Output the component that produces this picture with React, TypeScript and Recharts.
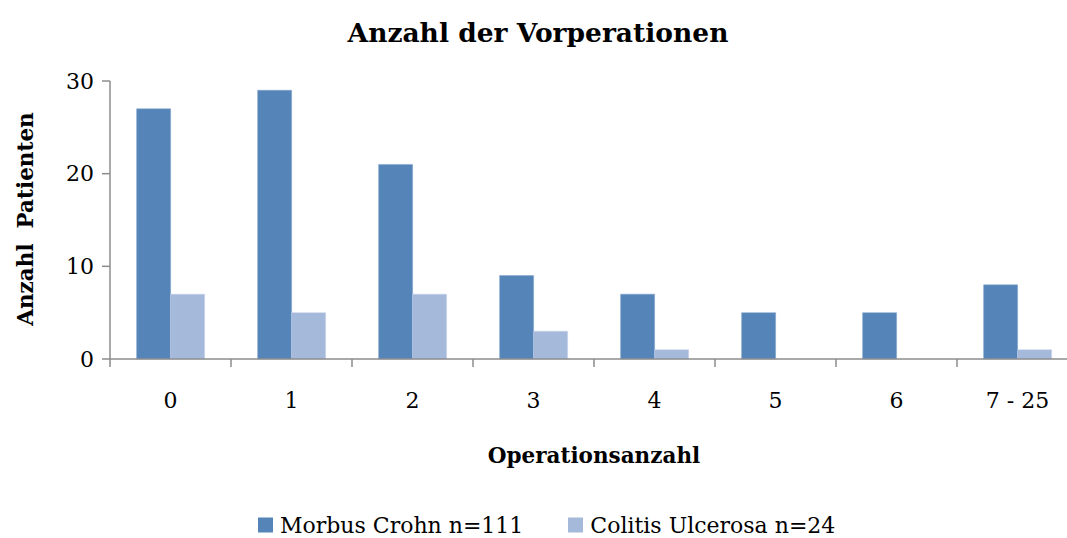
import React from 'react';
import { BarChart, Bar, XAxis, YAxis } from 'recharts';

const categories = ['0', '1', '2', '3', '4', '5', '6', '7 - 25'];
const morbusCrohn = [27, 29, 21, 9, 7, 5, 5, 8];
const colitisUlcerosa = [7, 5, 7, 3, 1, 0, 0, 1];
const yTicks = [0, 10, 20, 30];

const seriesNames = ['Morbus Crohn n=111', 'Colitis Ulcerosa n=24'];
const colors = ['#5585B8', '#A5B9DA'];

const data = categories.map((c, i) => ({ cat: c, mc: morbusCrohn[i], cu: colitisUlcerosa[i] }));

const FONT = '"DejaVu Serif", serif';
const AXIS = '#8C8C8C';
const TICK_SIZE = 6;
const TICK_MARGIN = 27;

const XTick = (props: any) => {
  const { x, y, payload, index, visibleTicksCount } = props;
  const half = payload && typeof payload.offset === 'number' && payload.offset > 0 ? payload.offset : 0;
  const top = y - TICK_SIZE - TICK_MARGIN;
  return (
    <g>
      {half > 0 && <line x1={x - half} x2={x - half} y1={top} y2={top + 8} stroke={AXIS} strokeWidth={1.5} />}
      {half > 0 && index === visibleTicksCount - 1 && (
        <line x1={x + half} x2={x + half} y1={top} y2={top + 8} stroke={AXIS} strokeWidth={1.5} />
      )}
      <text x={x} y={y} dy="0.71em" textAnchor="middle" fill="#000" fontSize={22} fontFamily={FONT}>
        {payload.value}
      </text>
    </g>
  );
};

export default function App() {
  return (
    <div style={{ position: 'absolute', left: 0, top: 0, width: 1067, height: 538, overflow: 'hidden', background: '#fff', fontFamily: FONT }}>
      <div style={{ position: 'absolute', left: 538, top: 32, transform: 'translate(-50%, -50%)', whiteSpace: 'pre', fontWeight: 'bold', fontSize: 26.5 }}>
        Anzahl der Vorperationen
      </div>
      <div style={{ position: 'absolute', left: 25, top: 219, transform: 'translate(-50%, -50%) rotate(-90deg)', whiteSpace: 'pre', fontWeight: 'bold', fontSize: 21.5 }}>
        {'Anzahl  Patienten'}
      </div>
      <div style={{ position: 'absolute', left: 594, top: 455, transform: 'translate(-50%, -50%)', whiteSpace: 'pre', fontWeight: 'bold', fontSize: 21.5 }}>
        Operationsanzahl
      </div>
      <div style={{ position: 'absolute', left: 258, top: 525, transform: 'translateY(-50%)', display: 'flex', alignItems: 'center', fontSize: 22, whiteSpace: 'pre' }}>
        <span style={{ display: 'inline-block', width: 15, height: 15, background: colors[0], marginRight: 7 }} />
        <span>{seriesNames[0]}</span>
        <span style={{ display: 'inline-block', width: 15, height: 15, background: colors[1], marginLeft: 45, marginRight: 7 }} />
        <span>{seriesNames[1]}</span>
      </div>
      <div style={{ position: 'absolute', left: 0, top: 0 }}>
        <BarChart width={1090} height={538} data={data} margin={{ top: 81, right: 12, bottom: 149, left: 50 }} barCategoryGap="22%" barGap={0}>
          <YAxis
            domain={[0, 30]}
            ticks={yTicks}
            width={60}
            tickLine={{ stroke: AXIS, strokeWidth: 1.5 }}
            axisLine={{ stroke: AXIS, strokeWidth: 1.5 }}
            tickSize={8}
            tick={{ fill: '#000', fontSize: 22, fontFamily: FONT }}
            tickMargin={8}
          />
          <XAxis
            dataKey="cat"
            height={30}
            interval={0}
            tickLine={false}
            tickSize={TICK_SIZE}
            axisLine={{ stroke: AXIS, strokeWidth: 1.5 }}
            tick={<XTick />}
            tickMargin={TICK_MARGIN}
          />
          <Bar dataKey="mc" name={seriesNames[0]} fill={colors[0]} stroke="#7FA3CC" strokeWidth={0.5} isAnimationActive={false} />
          <Bar dataKey="cu" name={seriesNames[1]} fill={colors[1]} stroke="#C5D3EA" strokeWidth={0.5} isAnimationActive={false} />
        </BarChart>
      </div>
    </div>
  );
}
